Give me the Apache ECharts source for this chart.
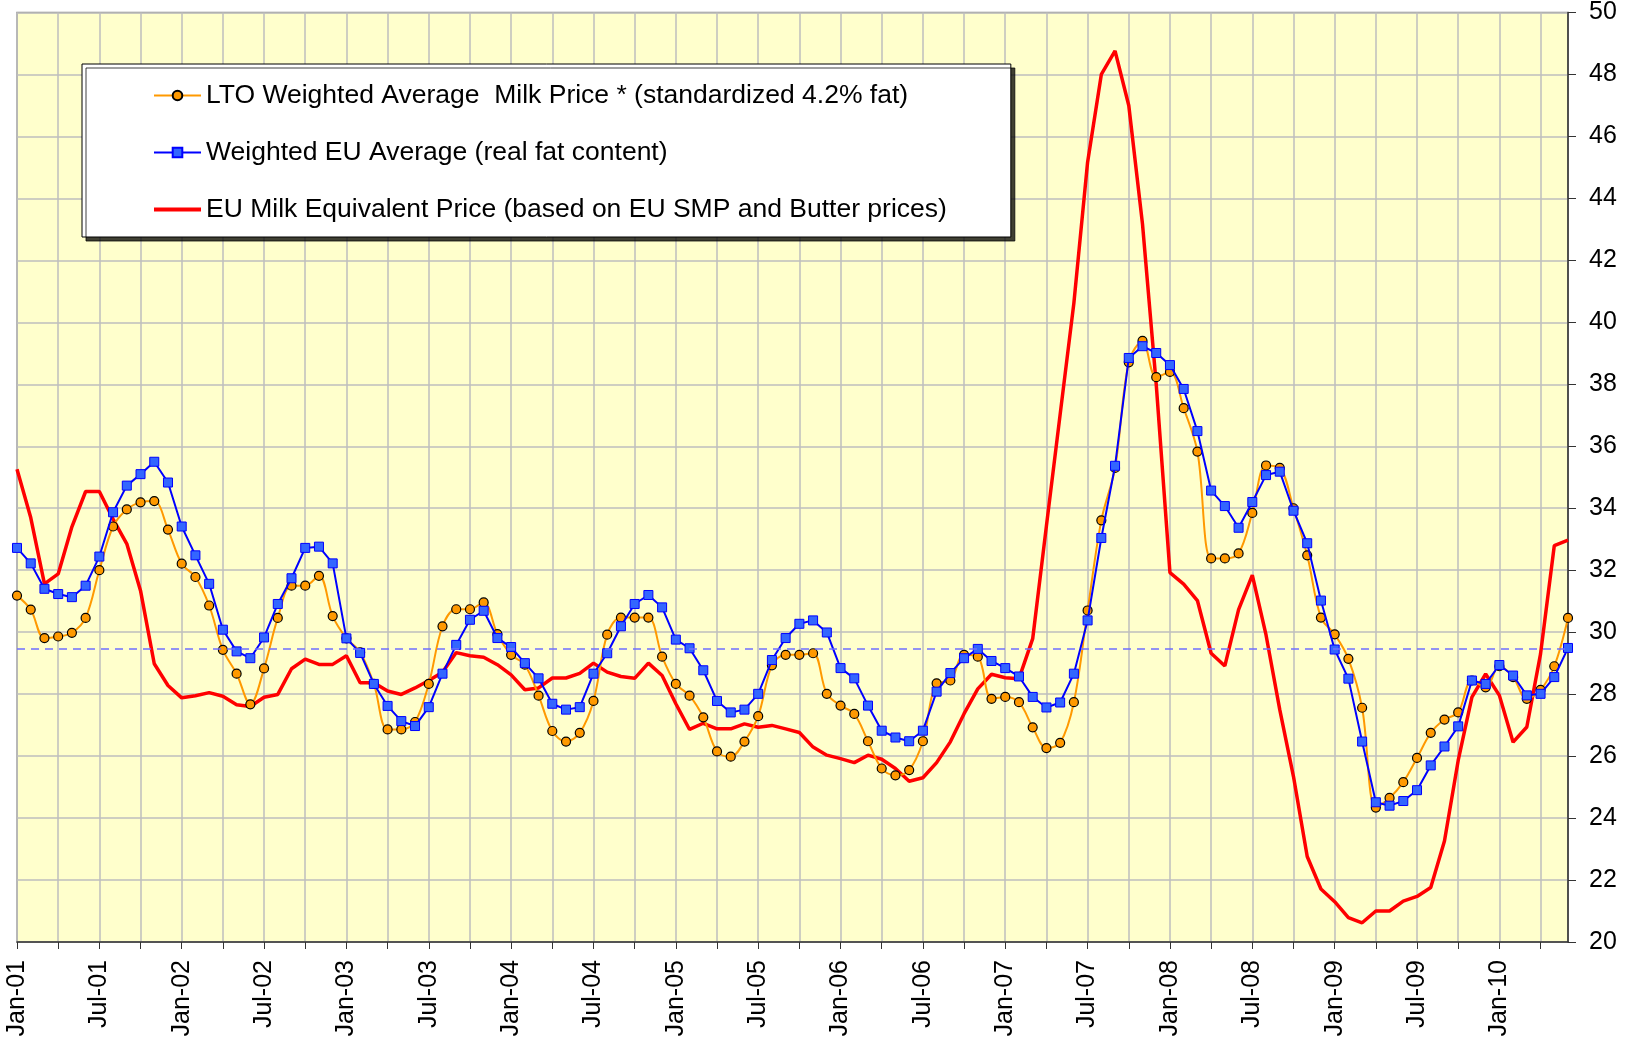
<!DOCTYPE html>
<html>
<head>
<meta charset="utf-8">
<title>Milk prices</title>
<script src="https://cdn.jsdelivr.net/npm/echarts@6.0.0/dist/echarts.min.js"></script>
<style>
    html, body { margin: 0; padding: 0; background: #fff; }
    #chart { width: 1630px; height: 1040px; }
</style>
</head>
<body>
<div id="chart"></div>
<script>
(function() {
    'use strict';

    // month labels Jan-01 .. Jun-10
    var monthNames = ['Jan', 'Feb', 'Mar', 'Apr', 'May', 'Jun', 'Jul', 'Aug', 'Sep', 'Oct', 'Nov', 'Dec'];
    var years = ['01', '02', '03', '04', '05', '06', '07', '08', '09', '10'];
    var lastMonthOfLastYear = 6;

    var categories = [];
    for (var y = 0; y < years.length; y++) {
        var count = (y == years.length - 1) ? lastMonthOfLastYear : 12;
        for (var m = 0; m < count; m++) {
            categories.push(monthNames[m] + '-' + years[y]);
        }
    }

    var ltoNames = 'LTO Weighted Average  Milk Price * (standardized 4.2% fat)';
    var euNames = 'Weighted EU Average (real fat content)';
    var equivNames = 'EU Milk Equivalent Price (based on EU SMP and Butter prices)';

    var ltoPrice = [
        31.18, 30.73, 29.81, 29.86, 29.98, 30.46, 32.00, 33.41, 33.96, 34.19, 34.23, 33.31,
        32.21, 31.78, 30.86, 29.43, 28.66, 27.67, 28.83, 30.46, 31.50, 31.50, 31.82, 30.52,
        29.80, 29.35, 28.33, 26.86, 26.86, 27.10, 28.33, 30.19, 30.74, 30.74, 30.96, 29.94,
        29.27, 28.95, 27.95, 26.81, 26.47, 26.75, 27.78, 29.92, 30.47, 30.47, 30.47, 29.21,
        28.33, 27.95, 27.25, 26.15, 25.98, 26.47, 27.29, 28.93, 29.27, 29.27, 29.32, 28.01,
        27.63, 27.36, 26.48, 25.60, 25.38, 25.55, 26.48, 28.35, 28.44, 29.27, 29.21, 27.85,
        27.91, 27.74, 26.93, 26.26, 26.43, 27.74, 30.70, 33.61, 35.30, 38.71, 39.40, 38.23,
        38.40, 37.23, 35.83, 32.38, 32.38, 32.54, 33.85, 35.38, 35.30, 34.00, 32.48, 30.47,
        29.93, 29.14, 27.56, 24.34, 24.65, 25.16, 25.94, 26.75, 27.18, 27.41, 28.44, 28.22,
        28.90, 28.55, 27.85, 28.14, 28.90, 30.46
    ];

    var euAverage = [
        32.72, 32.22, 31.40, 31.23, 31.13, 31.50, 32.44, 33.87, 34.73, 35.10, 35.50, 34.83,
        33.41, 32.48, 31.56, 30.08, 29.38, 29.16, 29.83, 30.91, 31.74, 32.72, 32.76, 32.22,
        29.80, 29.33, 28.33, 27.62, 27.13, 26.97, 27.58, 28.66, 29.59, 30.40, 30.69, 29.81,
        29.52, 29.00, 28.51, 27.69, 27.50, 27.58, 28.66, 29.32, 30.19, 30.91, 31.20, 30.80,
        29.76, 29.48, 28.77, 27.78, 27.41, 27.50, 28.01, 29.10, 29.81, 30.27, 30.38, 29.99,
        28.84, 28.51, 27.63, 26.82, 26.60, 26.48, 26.82, 28.08, 28.68, 29.16, 29.46, 29.07,
        28.84, 28.57, 27.91, 27.57, 27.73, 28.66, 30.38, 33.04, 35.37, 38.85, 39.23, 39.01,
        38.62, 37.85, 36.49, 34.57, 34.07, 33.37, 34.20, 35.07, 35.18, 33.92, 32.87, 31.02,
        29.44, 28.50, 26.47, 24.51, 24.40, 24.55, 24.90, 25.70, 26.31, 26.96, 28.44, 28.33,
        28.94, 28.60, 27.96, 28.01, 28.55, 29.49
    ];

    var milkEquivalent = [
        35.26, 33.70, 31.56, 31.88, 33.40, 34.54, 34.54, 33.65, 32.85, 31.34, 28.98, 28.28,
        27.88, 27.95, 28.05, 27.93, 27.66, 27.60, 27.90, 27.99, 28.82, 29.13, 28.96, 28.96,
        29.24, 28.37, 28.37, 28.10, 27.99, 28.20, 28.44, 28.71, 29.34, 29.24, 29.19, 28.95,
        28.62, 28.14, 28.20, 28.52, 28.52, 28.67, 29.00, 28.71, 28.57, 28.51, 29.00, 28.60,
        27.69, 26.86, 27.06, 26.88, 26.88, 27.04, 26.93, 26.99, 26.88, 26.76, 26.29, 26.03,
        25.92, 25.79, 26.03, 25.90, 25.60, 25.19, 25.30, 25.79, 26.46, 27.37, 28.17, 28.64,
        28.53, 28.50, 29.79, 33.43, 37.03, 40.62, 45.17, 48.00, 48.76, 47.00, 43.17, 38.00,
        31.92, 31.55, 31.02, 29.32, 28.91, 30.73, 31.84, 29.91, 27.50, 25.34, 22.76, 21.71,
        21.30, 20.79, 20.62, 21.00, 21.00, 21.32, 21.47, 21.76, 23.26, 25.86, 27.90, 28.65,
        27.96, 26.45, 26.94, 29.30, 32.79, 32.97
    ];

    // dashed reference level
    var referenceLevel = 29.45;

    var font = "'Liberation Sans', Arial, sans-serif";

    // grid lines and ticks every quarter, labels every half year
    var everyQuarter = function(index) {
        return index % 3 === 0;
    };
    var everyHalfYear = function(index) {
        return index % 6 === 0;
    };

    var myChart = echarts.init(document.getElementById('chart'), null, { renderer: 'canvas' });
    var option = {
        backgroundColor: '#ffffff',
        animation: false,
        grid: {
            left: 17,
            right: 62,
            top: 11,
            bottom: 98,
            show: true,
            backgroundColor: '#FFFFCC',
            borderColor: '#8c8c8c',
            borderWidth: 1.5
        },
        legend: {
            orient: 'vertical',
            left: 82,
            top: 64,
            padding: [18, 64, 14, 70],
            itemGap: 30,
            itemWidth: 47,
            itemHeight: 12,
            backgroundColor: '#ffffff',
            borderColor: '#000000',
            borderWidth: 1,
            shadowColor: 'rgba(0, 0, 0, 0.75)',
            shadowOffsetX: 4,
            shadowOffsetY: 4,
            shadowBlur: 0,
            textStyle: {
                fontFamily: font,
                fontSize: 26.5,
                lineHeight: 25,
                color: '#000'
            },
            data: [{
                name: ltoNames,
                lineStyle: { width: 1.8 }
            }, {
                name: euNames,
                lineStyle: { width: 1.8 }
            }, {
                name: equivNames,
                lineStyle: { width: 4 },
                itemStyle: { opacity: 0, borderWidth: 0 }
            }]
        },
        xAxis: {
            type: 'category',
            boundaryGap: false,
            data: categories,
            axisLine: {
                lineStyle: { color: '#333', width: 1.5 }
            },
            axisTick: {
                show: true,
                interval: everyQuarter,
                length: 7,
                lineStyle: { color: '#333', width: 1 }
            },
            axisLabel: {
                interval: everyHalfYear,
                rotate: 90,
                margin: 18,
                fontFamily: font,
                fontSize: 25,
                color: '#000'
            },
            splitLine: {
                show: true,
                interval: everyQuarter,
                lineStyle: { color: '#bebebe', width: 1.5 }
            }
        },
        yAxis: {
            type: 'value',
            position: 'right',
            min: 20,
            max: 50,
            interval: 2,
            axisLine: {
                show: true,
                lineStyle: { color: '#333', width: 1.5 }
            },
            axisTick: {
                show: true,
                length: 8,
                lineStyle: { color: '#333' }
            },
            axisLabel: {
                margin: 21,
                fontFamily: font,
                fontSize: 25,
                color: '#000'
            },
            splitLine: {
                show: true,
                lineStyle: { color: '#bebebe', width: 1.5 }
            }
        },
        series: [{
            name: ltoNames,
            type: 'line',
            data: ltoPrice,
            z: 3,
            smooth: 0.35,
            symbol: 'circle',
            symbolSize: 9,
            showAllSymbol: true,
            lineStyle: { color: '#FF9900', width: 2 },
            itemStyle: { color: '#FF9900', borderColor: '#000', borderWidth: 1.2 }
        }, {
            name: euNames,
            type: 'line',
            data: euAverage,
            z: 4,
            symbol: 'rect',
            symbolSize: 9,
            showAllSymbol: true,
            lineStyle: { color: '#0000FF', width: 2 },
            itemStyle: { color: '#3366FF', borderColor: '#0000FF', borderWidth: 1 },
            markLine: {
                silent: true,
                symbol: 'none',
                label: { show: false },
                lineStyle: { color: '#6f6fff', width: 1.5, type: [8, 6] },
                data: [{ yAxis: referenceLevel }]
            }
        }, {
            name: equivNames,
            type: 'line',
            data: milkEquivalent,
            z: 2,
            symbol: 'none',
            lineStyle: { color: '#FF0000', width: 3.5 },
            itemStyle: { color: '#FF0000' }
        }]
    };
    myChart.setOption(option);
})();
</script>
</body>
</html>
